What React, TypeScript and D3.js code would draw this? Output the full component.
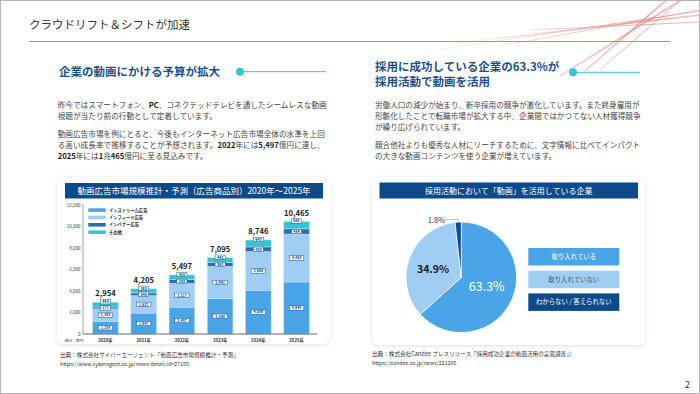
import React from 'react'
import * as d3 from 'd3'

const YEARS = ['2020年', '2021年', '2022年', '2023年', '2024年', '2025年']
const INSTREAM = [1158, 1947, 2497, 3300, 4059, 4844]
const INFEED = [1182, 1627, 2217, 2991, 3606, 4452]
const BANNER = [171, 246, 358, 362, 438, 484]
const OTHER = [443, 385, 425, 442, 643, 685]
const TOTALS = [2954, 4205, 5497, 7095, 8746, 10465]
const BAR_KEYS = ['instream', 'infeed', 'banner', 'other']
const BAR_LABELS = ['インストリーム広告', 'インフィード広告', 'インバナー広告', 'その他']

const PIE_LABELS = ['取り入れている', '取り入れていない', 'わからない / 答えられない']
const PIE_VALUES = [63.3, 34.9, 1.8]

const FONT = '"Noto Sans CJK JP", "Noto Sans", sans-serif'
const BLUE = '#4aa5e8'
const LIGHT = '#9fcdf3'
const DARK = '#2e6db5'
const TEAL = '#35c5d0'
const NAVY = '#0d4a8b'
const HEAD = '#1b4f8e'
const BAR_COLORS = [BLUE, LIGHT, DARK, TEAL]
const PIE_COLORS = [BLUE, LIGHT, NAVY]

const LEFT_TEXT = [
  [['昨今ではスマートフォン、'], ['PC', 1], ['、コネクテッドテレビを通したシームレスな動画']],
  [['視聴が当たり前の行動として定着しています。']],
  [['動画広告市場を例にとると、今後もインターネット広告市場全体の水準を上回']],
  [['る高い成長率で推移することが予想されます。'], ['2022', 1], ['年には'], ['5,497', 1], ['億円に達し、']],
  [['2025', 1], ['年には'], ['1', 1], ['兆'], ['465', 1], ['億円に至る見込みです。']],
]
const RIGHT_TEXT = [
  '労働人口の減少が始まり、新卒採用の競争が激化しています。また終身雇用が',
  '形骸化したことで転職市場が拡大する中、企業間ではかつてない人材獲得競争',
  'が繰り広げられています。',
  '競合他社よりも優秀な人材にリーチするために、文字情報に比べてインパクト',
  'の大きな動画コンテンツを使う企業が増えています。',
]
const LEFT_Y = [105.5, 116.7, 134.5, 145.5, 156.5]
const RIGHT_Y = [105, 116.3, 127.7, 145, 156.3]

const STREAKS = [
  [357, 62, 700, 11],
  [450, 44, 700, 15],
  [500, 46, 700, 10],
  [585, 71, 672, -5],
  [600, 70, 690, -8],
  [560, 76, 700, -12],
  [530, 30, 700, 22],
]

function BarChart() {
  const rows = YEARS.map((year, i) => ({
    year,
    instream: INSTREAM[i],
    infeed: INFEED[i],
    banner: BANNER[i],
    other: OTHER[i],
  }))
  const series = d3.stack<any>().keys(BAR_KEYS)(rows)
  const x = d3.scaleBand().domain(YEARS).range([85, 317]).paddingInner(0.33).paddingOuter(0.2)
  const y = d3.scaleLinear().domain([0, 12000]).range([334, 205])
  const fmt = d3.format(',')

  return (
    <g>
      <rect x={57} y={177} width={273} height={167} rx={6} fill="#fff" filter="url(#shadow)" />
      <rect x={65} y={183} width={258} height={15.5} fill={NAVY} />
      <text x={194} y={194.2} textAnchor="middle" fill="#fff" fontSize={8.5} fontFamily={FONT}>
        動画広告市場規模推計・予測（広告商品別）2020年～2025年
      </text>

      {y.ticks(6).map((t) => (
        <text key={t} x={80.5} y={y(t) + 1.6} textAnchor="end" fontSize={4.5} fill="#333" fontFamily={FONT}>
          {fmt(t)}
        </text>
      ))}
      <line x1={83} x2={83} y1={204} y2={334} stroke="#8a8a8a" strokeWidth={0.8} />

      {series.map((s, k) =>
        s.map((d, i) => (
          <rect
            key={k + '-' + i}
            x={x(YEARS[i])}
            y={y(d[1])}
            width={x.bandwidth()}
            height={y(d[0]) - y(d[1])}
            fill={BAR_COLORS[k]}
            stroke="#c5e2f8"
            strokeWidth={0.5}
          />
        ))
      )}
      <line x1={83} x2={317} y1={334} y2={334} stroke="#666" strokeWidth={1} />

      {series.map((s, k) =>
        s.map((d, i) => {
          const v = d[1] - d[0]
          const label = fmt(v)
          const w = label.length * 2.2 + 3.5
          const cy = k === 3 ? y(d[1]) - 0.5 : (y(d[0]) + y(d[1])) / 2
          const cx = (x(YEARS[i]) as number) + x.bandwidth() / 2
          return (
            <g key={'l' + k + '-' + i}>
              <rect x={cx - w / 2} y={cy - 2.2} width={w} height={4.4} fill="#fff" stroke={NAVY} strokeWidth={0.5} />
              <text x={cx} y={cy + 1.3} textAnchor="middle" fontSize={3.6} fontWeight="bold" fill={NAVY} fontFamily={FONT}>
                {label}
              </text>
            </g>
          )
        })
      )}

      {TOTALS.map((t, i) => (
        <text
          key={'t' + i}
          x={(x(YEARS[i]) as number) + x.bandwidth() / 2}
          y={y(t) - 6}
          textAnchor="middle"
          fontSize={7.6}
          fontWeight="bold"
          fill="#222"
          fontFamily={FONT}
        >
          {fmt(t)}
        </text>
      ))}

      {YEARS.map((yr) => (
        <text
          key={yr}
          x={(x(yr) as number) + x.bandwidth() / 2}
          y={342}
          textAnchor="middle"
          fontSize={4.3}
          fontWeight="bold"
          fill="#333"
          fontFamily={FONT}
        >
          {yr}
        </text>
      ))}
      <text x={64} y={341.5} fontSize={3.5} fill="#333" fontFamily={FONT}>
        (単位：億円)
      </text>

      {BAR_LABELS.map((l, k) => (
        <g key={l}>
          <rect x={88.3} y={208.3 + k * 7.35} width={17.4} height={3.6} fill={BAR_COLORS[k]} />
          <text x={109} y={211.7 + k * 7.35} fontSize={4.3} fontWeight="bold" fill="#222" fontFamily={FONT}>
            {l}
          </text>
        </g>
      ))}
    </g>
  )
}

function PieChart() {
  const cx = 461.3
  const cy = 277.3
  const r = 55.3
  const arcs = d3.pie<number>().sort(null)(PIE_VALUES)
  const arc = d3.arc<d3.PieArcDatum<number>>().innerRadius(0).outerRadius(r)
  const small = arcs[2]
  const mid = (small.startAngle + small.endAngle) / 2
  const ex = Math.sin(mid) * r
  const ey = -Math.cos(mid) * r

  return (
    <g>
      <rect x={372} y={177} width={273} height={168} rx={6} fill="#fff" filter="url(#shadow)" />
      <rect x={379.5} y={182.5} width={258.5} height={16} fill={NAVY} />
      <text x={508.7} y={193.8} textAnchor="middle" fill="#fff" fontSize={8} fontFamily={FONT}>
        採用活動において「動画」を活用している企業
      </text>

      <g transform={`translate(${cx},${cy})`}>
        {arcs.map((a, i) => (
          <path key={i} d={arc(a) as string} fill={PIE_COLORS[i]} stroke="#fff" strokeWidth={0.8} />
        ))}
        <polyline
          points={`${ex},${ey} ${ex},${ey - 2.5} ${ex - 14},${ey - 2.5}`}
          fill="none"
          stroke="#999"
          strokeWidth={0.6}
        />
      </g>
      <text x={486.7} y={290.5} textAnchor="middle" fill="#fff" fontSize={12.5} fontFamily={FONT}>
        {PIE_VALUES[0]}%
      </text>
      <text x={433} y={272.5} textAnchor="middle" fill="#222" fontSize={10.5} fontWeight="bold" fontFamily={FONT}>
        {PIE_VALUES[1]}%
      </text>
      <text x={445} y={223} textAnchor="end" fill="#333" fontSize={7.5} fontFamily={FONT}>
        {PIE_VALUES[2]}%
      </text>

      {PIE_LABELS.map((l, i) => (
        <g key={l}>
          <rect x={528.3} y={248 + i * 22.7} width={91} height={17.5} fill={PIE_COLORS[i]} />
          <text
            x={573.8}
            y={259 + i * 22.7}
            textAnchor="middle"
            fontSize={6.4}
            fill={i === 1 ? '#555' : '#fff'}
            fontFamily={FONT}
          >
            {l}
          </text>
        </g>
      ))}
    </g>
  )
}

export default function App() {
  return (
    <svg
      width={700}
      height={394}
      style={{ position: 'absolute', left: 0, top: 0, background: '#fff' }}
      fontFamily={FONT}
    >
      <defs>
        <filter id="shadow" x="-10%" y="-10%" width="120%" height="120%">
          <feDropShadow dx={0} dy={1} stdDeviation={2} floodColor="#000" floodOpacity={0.13} />
        </filter>
        <radialGradient id="streak" gradientUnits="userSpaceOnUse" cx={645} cy={20} r={300}>
          <stop offset="0" stopColor="#e48a8a" stopOpacity={0.75} />
          <stop offset="0.5" stopColor="#f0b4b4" stopOpacity={0.35} />
          <stop offset="1" stopColor="#f6d0d0" stopOpacity={0} />
        </radialGradient>
      </defs>
      <rect x={0.5} y={0.5} width={699} height={393} fill="#fff" stroke="#b5b5b5" />

      {STREAKS.map(([x1, y1, x2, y2], i) => (
        <line key={i} x1={x1} y1={y1} x2={x2} y2={y2} stroke="url(#streak)" strokeWidth={i % 2 ? 1.6 : 1} />
      ))}

      <text x={29} y={28.5} fontSize={11.5} fill="#333" fontFamily={FONT}>
        クラウドリフト＆シフトが加速
      </text>
      <line x1={29} x2={670} y1={41.5} y2={41.5} stroke="#d98080" strokeWidth={1} />

      <text x={59} y={75.8} fontSize={11.5} fontWeight="bold" fill={HEAD} fontFamily={FONT}>
        企業の動画にかける予算が拡大
      </text>
      <line x1={240} x2={326} y1={71.7} y2={71.7} stroke={TEAL} strokeWidth={1} />
      <circle cx={240} cy={71.7} r={4} fill={TEAL} />

      <text x={375} y={70.8} fontSize={11.5} fontWeight="bold" fill={HEAD} fontFamily={FONT}>
        採用に成功している企業の63.3%が
      </text>
      <text x={375} y={85.8} fontSize={11.5} fontWeight="bold" fill={HEAD} fontFamily={FONT}>
        採用活動で動画を活用
      </text>
      <line x1={573} x2={640} y1={72.3} y2={72.3} stroke={TEAL} strokeWidth={1} />
      <circle cx={573} cy={72.3} r={4} fill={TEAL} />

      {LEFT_TEXT.map((parts, i) => (
        <text key={i} x={57.7} y={LEFT_Y[i] + 2.6} fontSize={7.65} fill="#444" fontFamily={FONT}>
          {parts.map((p, j) => (
            <tspan key={j} fontWeight={p[1] ? 'bold' : 'normal'} fill={p[1] ? '#222' : '#444'}>
              {p[0]}
            </tspan>
          ))}
        </text>
      ))}
      {RIGHT_TEXT.map((t, i) => (
        <text key={i} x={375} y={RIGHT_Y[i] + 2.6} fontSize={7.6} fill="#444" fontFamily={FONT}>
          {t}
        </text>
      ))}

      <BarChart />
      <PieChart />

      <text x={60} y={357} fontSize={5.6} fill="#333" fontFamily={FONT}>
        出典：株式会社サイバーエージェント「動画広告市場規模推計・予測」
      </text>
      <text x={60} y={365.5} fontSize={5.3} fill="#333" fontFamily={FONT}>
        https://www.cyberagent.co.jp/news/detail/id=27195
      </text>
      <text x={372} y={356} fontSize={5.6} fill="#333" fontFamily={FONT}>
        出典：株式会社Candee プレスリリース「採用成功企業の動画活用の実態調査」]
      </text>
      <text x={372} y={364.5} fontSize={5.3} fill="#333" fontFamily={FONT}>
        https://candee.co.jp/news/221205
      </text>

      <text x={690} y={388} textAnchor="end" fontSize={9} fill="#333" fontFamily={FONT}>
        2
      </text>
    </svg>
  )
}
